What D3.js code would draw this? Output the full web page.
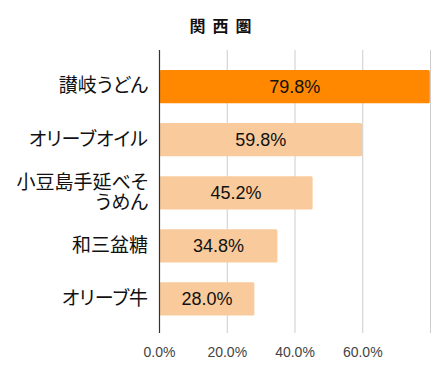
<!DOCTYPE html>
<html>
<head>
<meta charset="utf-8">
<script src="https://cdn.jsdelivr.net/npm/d3@7"></script>
<style>
  body { margin: 0; background: #fff; }
  svg text { font-family: "Noto Sans CJK JP", "Noto Sans", sans-serif; }
  svg text.num { font-family: "Liberation Sans", Arial, sans-serif; }
  svg text.cat { font-feature-settings: "palt"; }
</style>
</head>
<body>
<svg id="chart" width="441" height="371"></svg>
<script>
let title = '関西圏'
let categories = [['讃岐うどん'], ['オリーブオイル'], ['小豆島手延べそ', 'うめん'], ['和三盆糖'], ['オリーブ牛']]
let values = [79.8, 59.8, 45.2, 34.8, 28.0]
let tickValues = [0, 20, 40, 60, 80]
let tickLabels = ['0.0%', '20.0%', '40.0%', '60.0%', '']

let svg = d3.select('#chart')

let plotLeft = 159.5
let plotRight = 430.5
let plotTop = 50
let plotBottom = 333

let xScale = d3.scaleLinear()
    .domain([0, 80])
    .range([plotLeft, plotRight])

let yScale = d3.scaleBand()
    .domain(d3.range(values.length))
    .range([60.1, 325.5])
    .paddingInner(0.373)
    .paddingOuter(0.1865)

// title
svg.append('text')
    .attr('x', 224)
    .attr('y', 32)
    .attr('text-anchor', 'middle')
    .style('font-size', '16px')
    .style('font-weight', 'bold')
    .style('letter-spacing', '7px')
    .attr('fill', '#111')
    .text(title)

// gridlines, running a bit below the plot like ticks
svg.append('g')
    .selectAll('line')
    .data(tickValues.slice(1))
    .enter()
    .append('line')
    .attr('x1', (d) => xScale(d))
    .attr('x2', (d) => xScale(d))
    .attr('y1', plotTop)
    .attr('y2', plotBottom)
    .attr('stroke', '#cccccc')
    .attr('stroke-width', 1)

// tick labels
svg.append('g')
    .selectAll('text')
    .data(tickValues)
    .enter()
    .append('text')
    .attr('class', 'num')
    .attr('x', (d) => xScale(d))
    .attr('y', 357)
    .attr('text-anchor', 'middle')
    .style('font-size', '14px')
    .attr('fill', '#444')
    .text((d, i) => tickLabels[i])

// bars
svg.append('g')
    .selectAll('rect')
    .data(values)
    .enter()
    .append('rect')
    .attr('x', xScale(0))
    .attr('y', (d, i) => yScale(i))
    .attr('width', (d) => xScale(d) - xScale(0))
    .attr('height', yScale.bandwidth())
    .attr('rx', 1.5)
    .attr('fill', (d, i) => i == 0 ? '#ff8800' : '#f9cb9c')

// value labels
svg.append('g')
    .selectAll('text')
    .data(values)
    .enter()
    .append('text')
    .attr('class', 'num')
    .attr('x', (d) => (xScale(0) + xScale(d)) / 2)
    .attr('y', (d, i) => yScale(i) + yScale.bandwidth() / 2)
    .attr('dy', '0.36em')
    .attr('text-anchor', 'middle')
    .style('font-size', '18px')
    .attr('fill', '#111')
    .text((d) => d.toFixed(1) + '%')

// category labels (may wrap to two lines)
let labels = svg.append('g')
    .selectAll('text')
    .data(categories)
    .enter()
    .append('text')
    .attr('class', 'cat')
    .attr('text-anchor', 'end')
    .style('font-size', '19px')
    .attr('fill', '#111')

labels.each(function (lines, i) {
    let cy = yScale(i) + yScale.bandwidth() / 2 - 1
    let lineHeight = 20
    let start = cy - (lines.length - 1) * lineHeight / 2
    lines.forEach((line, j) => {
        d3.select(this).append('tspan')
            .attr('x', 148)
            .attr('y', start + j * lineHeight)
            .attr('dy', '0.36em')
            .text(line)
    })
})

// y axis line
svg.append('line')
    .attr('x1', plotLeft)
    .attr('x2', plotLeft)
    .attr('y1', plotTop)
    .attr('y2', plotBottom)
    .attr('stroke', '#333')
    .attr('stroke-width', 1.2)
</script>
</body>
</html>
